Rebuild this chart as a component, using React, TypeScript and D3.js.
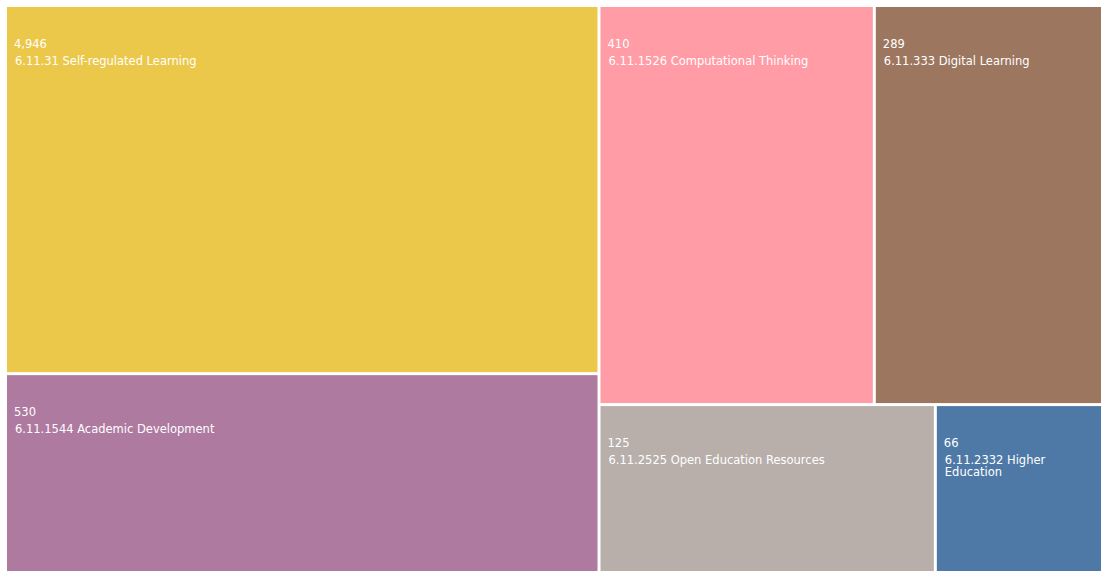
import React, { useEffect, useRef } from "react";
import * as d3 from "d3";

// topic labels, counts shown in tiles, and tile weights
const codes = ["6.11.31", "6.11.1544", "6.11.1526", "6.11.333", "6.11.2525", "6.11.2332"];
const names = [
  "Self-regulated Learning",
  "Academic Development",
  "Computational Thinking",
  "Digital Learning",
  "Open Education Resources",
  "Higher Education",
];
const counts = [4946, 530, 410, 289, 125, 66];
const weights = [350, 190, 176, 146.5, 91, 45.5];
const colors = ["#ebc84a", "#ae7aa0", "#ff9ca6", "#9c765f", "#b8afab", "#4e79a7"];

const W = 1101;
const H = 571;

export default function App() {
  const ref = useRef<SVGSVGElement | null>(null);

  useEffect(() => {
    const svg = d3.select(ref.current);
    svg.selectAll("*").remove();

    // set the area of the treemap, it runs a bit past the window
    const margin = { top: 7, left: 7 };
    const innerW = 1095,
      innerH = 565;

    const data = {
      name: "root",
      children: codes.map((c, i) => ({
        code: c,
        name: names[i],
        count: counts[i],
        weight: weights[i],
        color: colors[i],
      })),
    };

    const root = d3
      .hierarchy<any>(data)
      .sum((d: any) => d.weight || 0)
      .sort((a, b) => (b.value || 0) - (a.value || 0));

    d3
      .treemap<any>()
      .tile(d3.treemapSquarify)
      .size([innerW, innerH])
      .paddingInner(3)(root);

    const g = svg
      .append("g")
      .attr("transform", "translate(" + margin.left + "," + margin.top + ")");

    const cell = g
      .selectAll("g.cell")
      .data(root.leaves())
      .enter()
      .append("g")
      .attr("class", "cell")
      .attr("transform", (d: any) => "translate(" + d.x0 + "," + d.y0 + ")");

    cell
      .append("rect")
      .attr("width", (d: any) => d.x1 - d.x0)
      .attr("height", (d: any) => d.y1 - d.y0)
      .style("fill", (d: any) => d.data.color);

    cell
      .append("text")
      .attr("x", 7)
      .attr("y", 41)
      .style("font-family", "DejaVu Sans, sans-serif")
      .style("font-size", "11.5px")
      .style("fill", "#fff")
      .text((d: any) => d3.format(",")(d.data.count));

    // label text, wrapped to the tile width
    cell.each(function (d: any) {
      const maxW = d.x1 - d.x0 - 16;
      const text = d3
        .select(this)
        .append("text")
        .attr("x", 8)
        .attr("y", 58)
        .style("font-family", "DejaVu Sans, sans-serif")
        .style("font-size", "11.5px")
        .style("fill", "#fff");
      const words = (d.data.code + " " + d.data.name).split(" ");
      let line: string[] = [];
      let tspan = text.append("tspan").attr("x", 8).attr("dy", 0);
      words.forEach((w) => {
        line.push(w);
        tspan.text(line.join(" "));
        const node = tspan.node() as SVGTSpanElement;
        if (node.getComputedTextLength() > maxW && line.length > 1) {
          line.pop();
          tspan.text(line.join(" "));
          line = [w];
          tspan = text.append("tspan").attr("x", 8).attr("dy", 12).text(w);
        }
      });
    });
  }, []);

  return (
    <svg
      ref={ref}
      width={W}
      height={H}
      style={{ position: "absolute", left: 0, top: 0, background: "#fff" }}
    />
  );
}
